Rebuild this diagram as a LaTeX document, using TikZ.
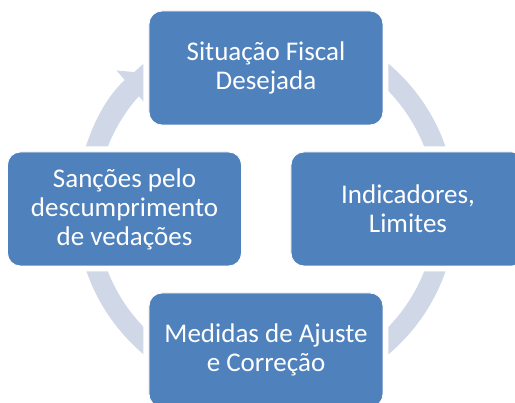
\documentclass[tikz,border=0pt]{standalone}
\usepackage{fontspec}
\setmainfont{Carlito}
\usepackage{xcolor}
\usetikzlibrary{arrows.meta,positioning}
\definecolor{boxblue}{HTML}{4F81BD}
\definecolor{ringgray}{HTML}{D0D8E8}

\begin{document}
\begin{tikzpicture}[x=1pt, y=1pt, font=\fontsize{27}{29}\selectfont, >=Latex]
\tikzstyle{stage}=[fill=boxblue, draw=white, line width=0.8pt, rounded corners=13pt, minimum width=234pt, minimum height=114pt, align=center, text=white, preaction={draw=white, line width=11pt}]
\tikzstyle{ring}=[draw=ringgray, line width=20pt]
\clip (-266,-194) rectangle (249,209);
\coordinate (ctr) at (0,0);
% cycle ring and its one arrow
\draw[ring] (ctr) circle[radius=180pt];
\draw[ring, -{Triangle[width=44pt,length=22pt]}, ringgray] (180:180pt) arc[start angle=180, end angle=131, radius=180pt];
\node[stage] (fiscal) at (90:141pt) {Situação Fiscal\\Desejada};
\node[stage] (indic) at (0:142pt) {Indicadores,\\Limites};
\node[stage] (ajuste) at (270:141pt) {Medidas de Ajuste\\e Correção};
\node[stage] (sancao) at (180:141.5pt) {Sanções pelo\\descumprimento\\de vedações};
\end{tikzpicture}
\end{document}
